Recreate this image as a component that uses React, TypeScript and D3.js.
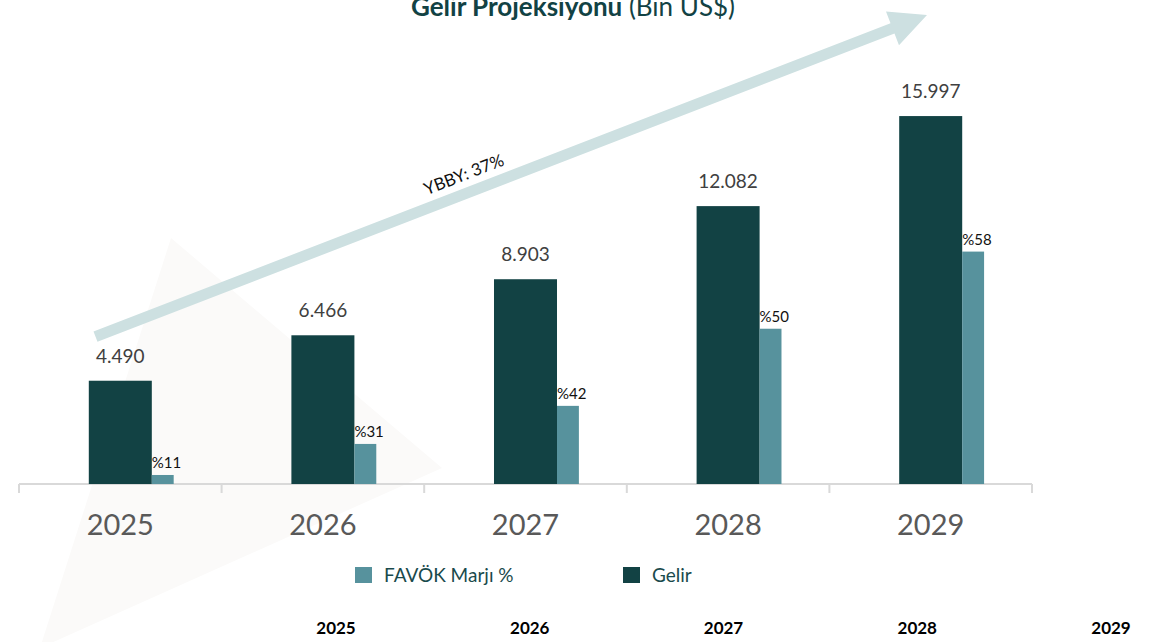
import React, { useEffect, useRef } from "react";
import * as d3 from "d3";

const years = ["2025", "2026", "2027", "2028", "2029"];
const gelir = [4490, 6466, 8903, 12082, 15997];
// FAVÖK bars as drawn (read on the revenue scale) and their margin labels
const favokBar = [392, 1742, 3397, 6751, 10105];
const favokMarj = [11, 31, 42, 50, 58];
const gelirLabels = ["4.490", "6.466", "8.903", "12.082", "15.997"];
const bottomYears = ["2025", "2026", "2027", "2028", "2029"];

const W = 1170;
const H = 642;
const FONT = "Lato, 'Open Sans', sans-serif";
const C_GELIR = "#124244";
const C_FAVOK = "#57929d";

const App = () => {
  const svgEl = useRef<SVGSVGElement | null>(null);

  useEffect(() => {
    if (!svgEl.current) return;
    draw(svgEl.current);
  }, []);

  return (
    <svg
      ref={svgEl}
      width={W}
      height={H}
      style={{ position: "fixed", left: 0, top: 0, background: "#fff" }}
    />
  );
};

function draw(el: SVGSVGElement) {
  const svg = d3.select(el);
  svg.selectAll("*").remove();

  const baseY = 484;
  const x = d3.scaleBand<string>().domain(years).range([19, 1032]).paddingInner(0);
  const y = d3.scaleLinear().domain([0, 20000]).range([baseY, 24]);
  const bw = x.bandwidth();
  const gW = bw * 0.311;
  const fW = bw * 0.108;

  // faint background triangle
  svg
    .append("path")
    .attr("d", d3.line()([[171, 238], [442, 468], [40, 648]]) + "Z")
    .attr("fill", "#fbfaf9");

  // growth arrow
  const start: [number, number] = [95.5, 336.7];
  const tip: [number, number] = [927, 15];
  const dx = tip[0] - start[0];
  const dy = tip[1] - start[1];
  const len = Math.hypot(dx, dy);
  const ux = dx / len, uy = dy / len;
  const nx = -uy, ny = ux;
  const sw = 5.5, hw = 18, hl = 37;
  const hb: [number, number] = [tip[0] - ux * hl, tip[1] - uy * hl];
  const pts: [number, number][] = [
    [start[0] + nx * sw, start[1] + ny * sw],
    [hb[0] + nx * sw, hb[1] + ny * sw],
    [hb[0] + nx * hw, hb[1] + ny * hw],
    tip,
    [hb[0] - nx * hw, hb[1] - ny * hw],
    [hb[0] - nx * sw, hb[1] - ny * sw],
    [start[0] - nx * sw, start[1] - ny * sw],
  ];
  svg.append("path").attr("d", d3.line()(pts) + "Z").attr("fill", "#cde0e1");

  const ang = (Math.atan2(dy, dx) * 180) / Math.PI;
  svg
    .append("text")
    .attr("transform", `translate(466,180) rotate(${ang})`)
    .attr("text-anchor", "middle")
    .attr("font-family", FONT)
    .attr("font-size", 17)
    .attr("fill", "#111")
    .text("YBBY: 37%");

  // title (partly above the top edge, as in the source)
  const title = svg
    .append("text")
    .attr("x", 573)
    .attr("y", 16)
    .attr("text-anchor", "middle")
    .attr("font-family", FONT)
    .attr("font-size", 26)
    .attr("fill", "#124244");
  title.append("tspan").attr("font-weight", "bold").text("Gelir Projeksiyonu");
  title.append("tspan").text(" (Bin US$)");

  // axis line and ticks
  const axis = svg.append("g").attr("transform", `translate(0,${baseY})`);
  axis
    .call(
      d3
        .axisBottom(x)
        .tickSize(0)
        .tickFormat(() => "")
    )
    .select(".domain")
    .attr("stroke", "#d9d9d9")
    .attr("stroke-width", 2)
    .attr("d", `M19,0H1032`);
  const bounds = years.map((d) => x(d) as number).concat([1032]);
  axis
    .selectAll("line.bound")
    .data(bounds)
    .join("line")
    .attr("class", "bound")
    .attr("x1", (d) => d)
    .attr("x2", (d) => d)
    .attr("y1", 0)
    .attr("y2", 9)
    .attr("stroke", "#d9d9d9")
    .attr("stroke-width", 2);

  const center = (d: string) => (x(d) as number) + bw / 2;

  // Gelir bars
  svg
    .selectAll("rect.gelir")
    .data(years)
    .join("rect")
    .attr("class", "gelir")
    .attr("x", (d) => center(d) - gW / 2)
    .attr("y", (d, i) => y(gelir[i]))
    .attr("width", gW)
    .attr("height", (d, i) => baseY - y(gelir[i]))
    .attr("fill", C_GELIR);

  // FAVÖK bars
  svg
    .selectAll("rect.favok")
    .data(years)
    .join("rect")
    .attr("class", "favok")
    .attr("x", (d) => center(d) + gW / 2)
    .attr("y", (d, i) => y(favokBar[i]))
    .attr("width", fW)
    .attr("height", (d, i) => baseY - y(favokBar[i]))
    .attr("fill", C_FAVOK);

  // Gelir value labels
  svg
    .selectAll("text.gv")
    .data(years)
    .join("text")
    .attr("class", "gv")
    .attr("x", (d) => center(d))
    .attr("y", (d, i) => y(gelir[i]) - 18)
    .attr("text-anchor", "middle")
    .attr("font-family", FONT)
    .attr("font-size", 19)
    .attr("fill", "#404040")
    .text((d, i) => gelirLabels[i]);

  // FAVÖK margin labels
  svg
    .selectAll("text.fv")
    .data(years)
    .join("text")
    .attr("class", "fv")
    .attr("x", (d) => center(d) + gW / 2)
    .attr("y", (d, i) => y(favokBar[i]) - 7)
    .attr("font-family", FONT)
    .attr("font-size", 15)
    .attr("fill", "#111")
    .text((d, i) => "%" + favokMarj[i]);

  // category labels
  svg
    .selectAll("text.cat")
    .data(years)
    .join("text")
    .attr("class", "cat")
    .attr("x", (d) => center(d))
    .attr("y", 535)
    .attr("text-anchor", "middle")
    .attr("font-family", FONT)
    .attr("font-size", 29)
    .attr("fill", "#595959")
    .text((d) => d);

  // legend
  const legend = [
    { label: "FAVÖK Marjı %", color: C_FAVOK, x: 355 },
    { label: "Gelir", color: C_GELIR, x: 623 },
  ];
  const lg = svg
    .selectAll("g.leg")
    .data(legend)
    .join("g")
    .attr("class", "leg")
    .attr("transform", (d) => `translate(${d.x},567)`);
  lg.append("rect").attr("width", 17).attr("height", 16).attr("fill", (d) => d.color);
  lg.append("text")
    .attr("x", 29)
    .attr("y", 15)
    .attr("font-family", FONT)
    .attr("font-size", 19)
    .attr("fill", "#1a4a4c")
    .text((d) => d.label);

  // bottom year row
  const xb = d3.scalePoint<string>().domain(bottomYears).range([336, 1111]);
  svg
    .selectAll("text.by")
    .data(bottomYears)
    .join("text")
    .attr("class", "by")
    .attr("x", (d) => xb(d) as number)
    .attr("y", 634)
    .attr("text-anchor", "middle")
    .attr("font-family", FONT)
    .attr("font-size", 17)
    .attr("font-weight", "bold")
    .attr("fill", "#000")
    .text((d) => d);
}

export default App;
